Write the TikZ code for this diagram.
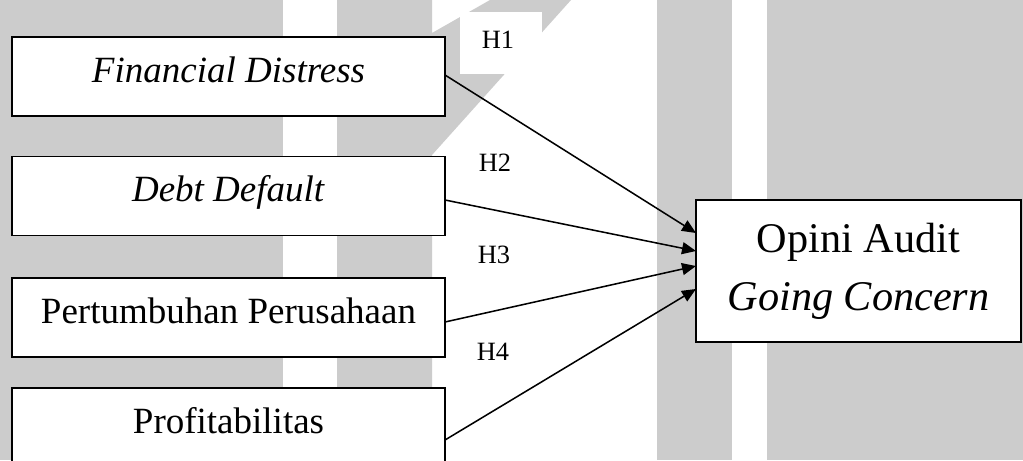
\documentclass[tikz,border=0pt]{standalone}
\usepackage{fontspec}
\setmainfont{Liberation Serif}
\usetikzlibrary{arrows.meta,calc}
\definecolor{wm}{RGB}{204,204,204}
\tikzset{
  varbox/.style={draw=black, line width=1.4pt, fill=white, minimum width=324.75pt, minimum height=59.25pt,
    inner sep=0pt, outer sep=0pt, text height=18pt, text depth=9.75pt,
    font={\fontsize{27.75pt}{32pt}\selectfont}},
  opbox/.style={draw=black, line width=1.4pt, fill=white, minimum width=243.75pt, minimum height=106.5pt,
    inner sep=0pt, outer sep=0pt, align=center,
    font={\fontsize{31.7pt}{43.5pt}\selectfont}},
  hlab/.style={anchor=base, inner sep=0pt, font={\fontsize{19.8pt}{24pt}\selectfont}},
  arr/.style={line width=1.15pt, -{Triangle[length=10.5pt,width=9pt]}},
  wmfill/.style={fill=wm, draw=none}
}
\begin{document}
\begin{tikzpicture}[x=0.75pt, y=-0.75pt]
\useasboundingbox (0,0) rectangle (1023,460);
\clip (0,0) rectangle (1023,460);
% watermark background
\fill[white] (0,0) rectangle (1023,460);
\path[wmfill] (0,0) rectangle (283,460);
\path[wmfill] (337,0) -- (432,0) -- (432,33) -- (490,0) -- (571,0) -- (432,155) -- (432,460) -- (337,460) -- cycle;
\path[wmfill] (657,0) rectangle (732,460);
\path[wmfill] (767,0) rectangle (1023,460);
\fill[white] (460,12) rectangle (542,74);
% boxes
\node[varbox] (fd) at (228.5,76.5) {\textit{Financial Distress}};
\node[varbox] (dd) at (228.5,196) {\textit{Debt Default}};
\node[varbox] (pp) at (228.5,317.5) {Pertumbuhan Perusahaan};
\node[varbox] (pr) at (228.5,427.5) {Profitabilitas};
\node[opbox] (op) at (858.5,271) {Opini Audit\\\textit{Going Concern}};
% labels
\node[hlab] (h1) at (498,49) {H1};
\node[hlab] (h2) at (495,171) {H2};
\node[hlab] (h3) at (494,263) {H3};
\node[hlab] (h4) at (493,360) {H4};
% connectors
\draw[arr] ($(fd.east)+(0,-1.5)$) -- ($(op.west)+(0,-38)$);
\draw[arr] ($(dd.east)+(0,4)$) -- ($(op.west)+(0,-20)$);
\draw[arr] ($(pp.east)+(0,4.5)$) -- ($(op.west)+(0,-5)$);
\draw[arr] ($(pr.east)+(0,12.5)$) -- ($(op.west)+(0,18)$);
\end{tikzpicture}
\end{document}
